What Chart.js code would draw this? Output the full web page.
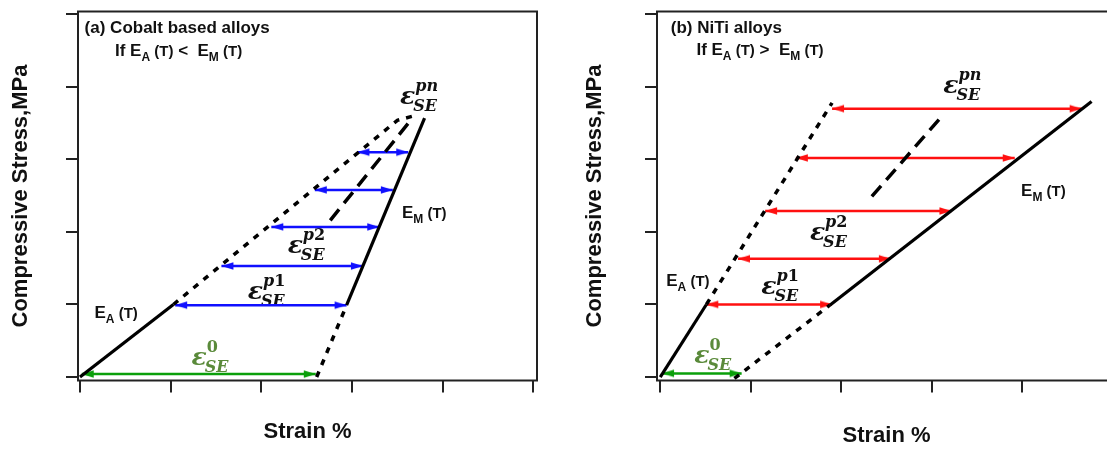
<!DOCTYPE html>
<html>
<head>
<meta charset="utf-8">
<script src="https://cdn.jsdelivr.net/npm/chart.js@4.4.0/dist/chart.umd.min.js"></script>
<style>
  html, body { margin: 0; padding: 0; background: #fff; overflow: hidden; }
  body { width: 1107px; height: 449px; position: relative; }
  canvas { position: absolute; top: 0; }
  #chartA { left: 0; }
  #chartB { left: 553px; }
</style>
</head>
<body>
<canvas id="chartA" width="553" height="449"></canvas>
<canvas id="chartB" width="580" height="449"></canvas>
<script>
// tick marks only, the axes carry no numbers
const xTicks = [0, 1, 2, 3, 4, 5];
const yTicks = [0, 1, 2, 3, 4, 5];

// (a) Cobalt based alloys
const coEA = [[0, 0], [1.03, 1.0]];
const coEAext = [[1.03, 1.0], [3.5, 3.54], [3.68, 3.6]];
const coEM = [[2.94, 0.99], [3.8, 3.57]];
const coEMext = [[2.61, 0.0], [2.94, 0.99]];
const coMid = [[2.76, 2.16], [3.66, 3.56]];
const coArrowY = [0.99, 1.53, 2.07, 2.58, 3.1];
const coArrowFrom = [1.05, 1.56, 2.11, 2.59, 3.06];
const coArrowTo = [2.94, 3.12, 3.30, 3.45, 3.62];
const coElasticY = [0.04];
const coElasticFrom = [0.02];
const coElasticTo = [2.6];

// (b) NiTi alloys
const niEA = [[0, 0], [0.51, 1.0]];
const niEAext = [[0.51, 1.0], [1.9, 3.78]];
const niEM = [[1.875, 0.99], [4.77, 3.8]];
const niEMext = [[0.82, -0.02], [1.875, 0.99]];
const niMid = [[2.34, 2.49], [3.11, 3.59]];
const niArrowY = [1.0, 1.63, 2.29, 3.02, 3.7];
const niArrowFrom = [0.51, 0.86, 1.16, 1.5, 1.9];
const niArrowTo = [1.9, 2.55, 3.22, 3.92, 4.66];
const niElasticY = [0.05];
const niElasticFrom = [0.02];
const niElasticTo = [0.9];

const SANS = '"Liberation Sans", Arial, sans-serif';
const SERIF = '"DejaVu Serif", "Liberation Serif", serif';
const INK = '#111';
const BLUE = '#1010ff';
const RED = '#ff1010';
const GREEN = '#0a9f0a';
const OLIVE = '#5a8a3a';

const pts = a => a.map(([x, y]) => ({ x, y }));

function arrowHead(color) {
  const c = document.createElement('canvas');
  c.width = 28; c.height = 10;
  const g = c.getContext('2d');
  g.fillStyle = color;
  g.beginPath();
  g.moveTo(14, 5); g.lineTo(2, 1.3); g.lineTo(2, 8.7);
  g.closePath(); g.fill();
  return c;
}

function lineSet(data, dash, width) {
  return {
    data: pts(data), showLine: true, borderColor: '#000',
    borderWidth: width || 3, borderDash: dash || [], pointRadius: 0
  };
}

function arrowSets(ys, from, to, color) {
  const head = arrowHead(color);
  return ys.map((y, i) => ({
    data: [{ x: from[i], y: y }, { x: to[i], y: y }],
    showLine: true, borderColor: color, borderWidth: 2.5,
    pointStyle: head, pointRadius: 5, pointRotation: [180, 0]
  }));
}

// rich text: list of [text, font, dy]
function drawRich(ctx, x, y, segs, color) {
  ctx.fillStyle = color;
  ctx.textBaseline = 'alphabetic';
  ctx.textAlign = 'left';
  for (const [t, f, dy] of segs) {
    ctx.font = f;
    ctx.fillText(t, x, y + (dy || 0));
    x += ctx.measureText(t).width;
  }
}

function eLabel(sub) {
  return [['E', 'bold 17px ' + SANS], [sub, 'bold 12px ' + SANS, 5], [' (T)', 'bold 15px ' + SANS]];
}
function condLine(op) {
  return [['If ', 'bold 17px ' + SANS]].concat(eLabel('A'), [[' ' + op + '  ', 'bold 17px ' + SANS]], eLabel('M'));
}

function drawEps(ctx, x, y, sup, color) {
  ctx.fillStyle = color;
  ctx.textBaseline = 'alphabetic';
  ctx.textAlign = 'left';
  ctx.font = 'bold italic 25px ' + SERIF;
  ctx.fillText('\u03b5', x, y);
  const w = ctx.measureText('\u03b5').width;
  let sx = x + w;
  for (const ch of sup) {
    ctx.font = (/\d/.test(ch) ? 'bold ' : 'bold italic ') + '16px ' + SERIF;
    ctx.fillText(ch, sx, y - 13);
    sx += ctx.measureText(ch).width;
  }
  ctx.font = 'bold italic 16px ' + SERIF;
  ctx.fillText('SE', x + w - 2, y + 7);
}

function notesPlugin(items) {
  return {
    id: 'notes',
    beforeDatasetsDraw(chart) {
      const { ctx, scales } = chart;
      ctx.save();
      for (const it of items) {
        const px = scales.x.getPixelForValue(it.x);
        const py = scales.y.getPixelForValue(it.y);
        if (it.eps !== undefined) drawEps(ctx, px, py, it.eps, it.color || INK);
        else drawRich(ctx, px, py, it.segs, it.color || INK);
      }
      ctx.restore();
    }
  };
}

const framePlugin = {
  id: 'frame',
  afterDraw(chart) {
    const { ctx, chartArea: a } = chart;
    ctx.save();
    ctx.strokeStyle = '#222';
    ctx.lineWidth = 2;
    ctx.strokeRect(a.left, a.top, a.right - a.left, a.bottom - a.top);
    ctx.restore();
  }
};

function axis(ticks, min, max, title, titlePad) {
  return {
    type: 'linear', min: min, max: max,
    afterBuildTicks: s => { s.ticks = ticks.map(v => ({ value: v })); },
    ticks: { display: false },
    grid: { drawOnChartArea: false, drawTicks: true, tickLength: 12, color: '#222', lineWidth: 2 },
    border: { display: false },
    title: {
      display: true, text: title, color: INK, padding: titlePad,
      font: { family: SANS, size: 22, weight: 'bold', lineHeight: 1.2 }
    }
  };
}

function makeChart(id, datasets, items, pad, yPad, xPad, xMin) {
  return new Chart(document.getElementById(id), {
    type: 'scatter',
    data: { datasets: datasets },
    options: {
      responsive: false, animation: false, devicePixelRatio: 1, events: [],
      layout: { padding: pad },
      plugins: { legend: { display: false }, tooltip: { enabled: false } },
      scales: {
        x: axis(xTicks, xMin, 5.04, 'Strain %', xPad),
        y: axis(yTicks, -0.048, 5.04, 'Compressive Stress,MPa', yPad)
      }
    },
    plugins: [notesPlugin(items), framePlugin]
  });
}

makeChart('chartA', [
  lineSet(coEA, [], 3.2),
  lineSet(coEAext, [6, 7], 3.5),
  lineSet(coEM, [], 3.2),
  lineSet(coEMext, [6, 7], 3.5),
  lineSet(coMid, [14, 8], 3.5)
].concat(
  arrowSets(coArrowY, coArrowFrom, coArrowTo, BLUE),
  arrowSets(coElasticY, coElasticFrom, coElasticTo, GREEN)
), [
  { x: 0.051, y: 4.745, segs: [['(a) Cobalt based alloys', 'bold 17px ' + SANS]] },
  { x: 0.386, y: 4.43, segs: condLine('<') },
  { x: 0.16, y: 0.82, segs: eLabel('A') },
  { x: 3.55, y: 2.19, segs: eLabel('M') },
  { x: 3.53, y: 3.77, eps: 'pn' },
  { x: 2.29, y: 1.71, eps: 'p2' },
  { x: 1.85, y: 1.08, eps: 'p1' },
  { x: 1.23, y: 0.17, eps: '0', color: OLIVE }
], { left: 7.3, top: 11.5, right: 16, bottom: 0 },
  { top: 0, bottom: 32.3 }, { top: 26.3, bottom: 3.8 }, -0.022);

makeChart('chartB', [
  lineSet(niEA, [], 3.2),
  lineSet(niEAext, [6, 7], 3.5),
  lineSet(niEM, [], 3.2),
  lineSet(niEMext, [6, 7], 3.5),
  lineSet(niMid, [14, 8], 3.5)
].concat(
  arrowSets(niArrowY, niArrowFrom, niArrowTo, RED),
  arrowSets(niElasticY, niElasticFrom, niElasticTo, GREEN)
), [
  { x: 0.116, y: 4.74, segs: [['(b) NiTi alloys', 'bold 17px ' + SANS]] },
  { x: 0.40, y: 4.44, segs: condLine('>') },
  { x: 0.066, y: 1.255, segs: eLabel('A') },
  { x: 3.99, y: 2.49, segs: eLabel('M') },
  { x: 3.13, y: 3.91, eps: 'pn' },
  { x: 1.655, y: 1.89, eps: 'p2' },
  { x: 1.117, y: 1.14, eps: 'p1' },
  { x: 0.377, y: 0.195, eps: '0', color: OLIVE }
], { left: 28.8, top: 11.5, right: 17, bottom: 0 },
  { top: 0, bottom: 36.8 }, { top: 30.1, bottom: 0 }, -0.036);
</script>
</body>
</html>
